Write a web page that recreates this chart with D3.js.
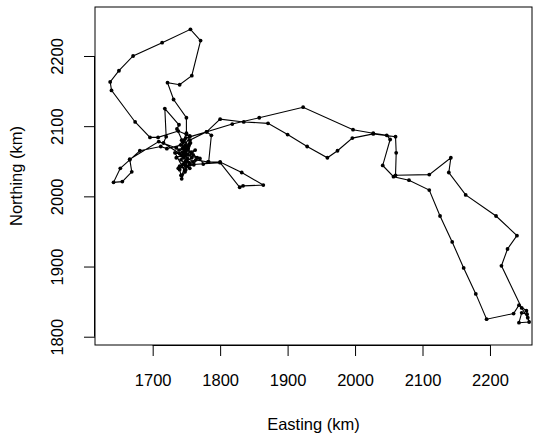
<!DOCTYPE html>
<html><head><meta charset="utf-8">
<script src="https://cdn.jsdelivr.net/npm/d3@7"></script>
<style>body{margin:0;background:#fff}svg{display:block}text{font-family:"Liberation Sans",Arial,sans-serif}</style>
</head><body><svg id="c" width="545" height="435"></svg>
<script>
const easting = [1745,1751,1740,1749,1743,1748,1758,1752,1742,1721,1712,1681,1666,1652,1642,1655,1669,1666,1709,1735,
1746,1755,1750,1738,1708,1696,1674,1639,1637,1650,1671,1714,1756,1771,1758,1740,1722,1731,1750,1750,
1745,1736,1739,1718,1720,1716,1740,1752,1760,1770,1775,1783,1787,1780,1755,1748,1743,1754,1764,1782,
1800,1832,1864,1834,1829,1800,1755,1746,1749,1749,1818,1858,1923,1997,2027,2047,2052,2041,2057,2080,
2110,2126,2144,2161,2179,2195,2235,2243,2254,2258,2243,2247,2255,2256,2247,2217,2226,2240,2209,2164,
2139,2142,2110,2060,2061,2060,2027,1996,1974,1959,1929,1900,1871,1835,1800,1780,1755,1749,1742,1755,
1745,1752,1739,1746,1757,1749,1740,1742,1751,1760,1748,1743,1754,1749,
1735,1763,1738,1761,1766,1733,1748,1756,1744];
const northing = [2063,2052,2043,2038,2025,2049,2055,2069,2073,2068,2071,2065,2052,2040,2020,2021,2035,2053,2078,2069,
2080,2086,2088,2093,2084,2084,2106,2151,2163,2179,2200,2219,2238,2222,2172,2159,2162,2138,2112,2090,
2077,2096,2102,2125,2085,2076,2061,2066,2059,2054,2046,2049,2087,2092,2085,2073,2058,2048,2052,2049,
2049,2034,2016,2015,2013,2048,2045,2055,2072,2083,2103,2112,2127,2095,2090,2087,2081,2044,2028,2023,
2009,1972,1935,1898,1861,1825,1833,1845,1837,1821,1820,1834,1832,1827,1841,1901,1925,1944,1972,2002,
2034,2055,2031,2030,2062,2085,2089,2083,2065,2055,2071,2088,2104,2106,2110,2092,2080,2066,2052,2040,
2046,2059,2066,2070,2063,2049,2038,2030,2043,2049,2058,2080,2073,2062,
2055,2066,2040,2045,2055,2062,2035,2076,2068];
const xTicks = [1700,1800,1900,2000,2100,2200];
const yTicks = [1800,1900,2000,2100,2200];
const xLabel = "Easting (km)", yLabel = "Northing (km)";

const L=95,R=532,T=7,B=345;
const x = d3.scaleLinear().domain([1614.5,2262.3]).range([L,R]);
const y = d3.scaleLinear().domain([1788.2,2269.8]).range([B,T]);
const svg = d3.select("#c");
const pts = easting.map((e,i)=>[e,northing[i]]);

svg.append("path").datum(pts)
  .attr("d", d3.line().x(d=>x(d[0])).y(d=>y(d[1])))
  .attr("fill","none").attr("stroke","#000").attr("stroke-width",1.1);
svg.append("g").selectAll("circle").data(pts).join("circle")
  .attr("cx",d=>x(d[0])).attr("cy",d=>y(d[1])).attr("r",1.9).attr("fill","#000");

svg.append("rect").attr("x",L).attr("y",T).attr("width",R-L).attr("height",B-T)
  .attr("fill","none").attr("stroke","#000").attr("stroke-width",1);

const xa = d3.axisBottom(x).tickValues(xTicks).tickSize(11).tickPadding(18).tickFormat(d3.format("d"));
const gx = svg.append("g").attr("transform",`translate(0,${B})`).call(xa);
gx.select(".domain").attr("d",`M${x(1700)},0.5H${x(2200)}`);
gx.selectAll("text").attr("font-size",16.5).attr("fill","#000").attr("font-family","Liberation Sans, Arial, sans-serif");

const ya = d3.axisLeft(y).tickValues(yTicks).tickSize(11).tickFormat(d3.format("d"));
const gy = svg.append("g").attr("transform",`translate(${L},0)`).call(ya);
gy.select(".domain").attr("d",`M-0.5,${y(1800)}V${y(2200)}`);
gy.selectAll("text").remove();
gy.selectAll(".tick").append("text").attr("transform","translate(-32,0) rotate(-90)")
  .attr("text-anchor","middle").attr("font-size",16.5).attr("fill","#000")
  .text(d=>d);

svg.append("text").attr("x",(L+R)/2).attr("y",430).attr("text-anchor","middle")
  .attr("font-size",16.5).text(xLabel);
svg.append("text").attr("transform",`translate(22,${(T+B)/2}) rotate(-90)`).attr("text-anchor","middle")
  .attr("font-size",16.5).text(yLabel);
</script></body></html>
